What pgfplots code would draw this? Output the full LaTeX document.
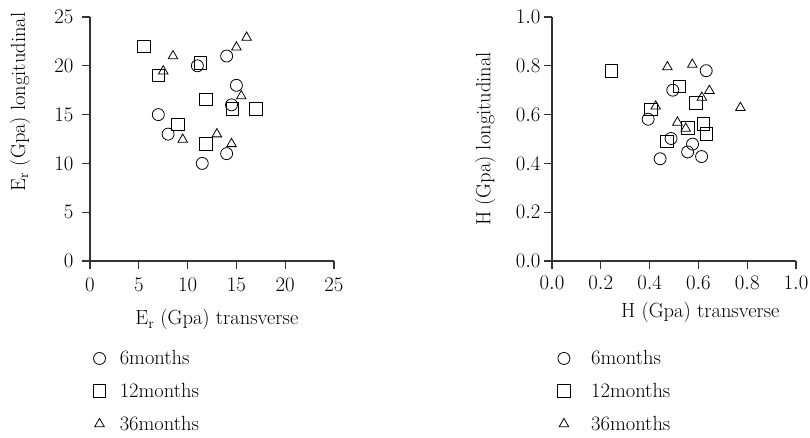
\documentclass[border=0pt]{standalone}
\usepackage{pgfplots}
\pgfplotsset{compat=1.18}
\definecolor{axgray}{HTML}{333333}
\newcommand{\bigf}{\fontsize{20.5}{24}\selectfont}
\pgfplotsset{
  base/.style={
    scale only axis, width=244pt, height=244pt,
    axis x line*=bottom, axis y line*=left,
    axis line style={axgray, line width=1.1pt},
    every tick/.style={axgray, line width=1.1pt},
    tick align=outside, major tick length=8pt,
    tick label style={font=\bigf},
    label style={font=\bigf},
    legend cell align=left,
    legend style={draw=none, fill=none, anchor=north west, row sep=13pt, font=\bigf},
    clip=false,
  },
  m6/.style={only marks, mark=o, mark size=6pt, mark options={black, line width=0.8pt}},
  m12/.style={only marks, mark=square, mark size=6.3pt, mark options={black, line width=0.8pt}},
  m36/.style={only marks, mark=triangle, mark size=5.5pt, mark options={black, line width=0.8pt}},
}
\begin{document}
\begin{tikzpicture}
\begin{axis}[base,
  xmin=0, xmax=25, ymin=0, ymax=25,
  xtick={0,5,...,25}, ytick={0,5,...,25},
  yticklabel style={xshift=-5pt},
  xticklabel style={yshift=-6pt},
  xlabel={E\textsubscript{r} (Gpa) transverse},
  ylabel={E\textsubscript{r} (Gpa) longitudinal},
  xlabel style={at={(axis description cs:0.52,-0.262)}, anchor=base},
  ylabel style={at={(axis description cs:-0.287,0.652)}, anchor=center},
  legend style={at={(axis description cs:0,-0.35)}, /tikz/every odd column/.append style={column sep=12pt}},
]
\addplot[m6] coordinates {(14.0,21.0) (11.0,20.0) (15.0,18.0) (14.5,16.0) (7.0,15.0) (8.0,13.0) (14.0,11.0) (11.5,10.0)};
\addlegendentry{6months}
\addplot[m12] coordinates {(5.5,22.0) (11.3,20.3) (7.0,19.0) (11.9,16.55) (14.6,15.6) (17.0,15.6) (9.0,14.0) (11.9,12.0)};
\addlegendentry{12months}
\addplot[m36] coordinates {(16.05,22.9) (15.0,21.9) (8.5,21.0) (7.5,19.45) (15.5,16.9) (9.5,12.45) (13.0,13.0) (14.5,12.0)};
\addlegendentry{36months}
\end{axis}
\begin{axis}[base, xshift=462pt,
  xmin=0, xmax=1, ymin=0, ymax=1,
  xtick={0,0.2,...,1.0}, ytick={0,0.2,...,1.0},
  xticklabel style={yshift=-3.5pt, /pgf/number format/.cd, fixed, fixed zerofill, precision=1},
  yticklabel style={/pgf/number format/.cd, fixed, fixed zerofill, precision=1},
  xlabel={H (Gpa) transverse},
  ylabel={H (Gpa) longitudinal},
  xlabel style={at={(axis description cs:0.608,-0.232)}, anchor=base},
  ylabel style={at={(axis description cs:-0.274,0.5)}, anchor=center},
  legend style={at={(axis description cs:0.01,-0.35)}, /tikz/every odd column/.append style={column sep=19pt}},
]
\addplot[m6] coordinates {(0.632,0.780) (0.495,0.700) (0.394,0.581) (0.488,0.502) (0.576,0.479) (0.556,0.447) (0.613,0.428) (0.443,0.419)};
\addlegendentry{6months}
\addplot[m12] coordinates {(0.243,0.778) (0.522,0.716) (0.590,0.648) (0.405,0.621) (0.621,0.562) (0.558,0.546) (0.632,0.522) (0.470,0.490)};
\addlegendentry{12months}
\addplot[m36] coordinates {(0.473,0.795) (0.575,0.805) (0.645,0.698) (0.614,0.670) (0.425,0.634) (0.772,0.628) (0.514,0.568) (0.548,0.543)};
\addlegendentry{36months}
\end{axis}
\pgfresetboundingbox
\useasboundingbox (-90pt,-177pt) rectangle (720pt,261pt);
\end{tikzpicture}
\end{document}
